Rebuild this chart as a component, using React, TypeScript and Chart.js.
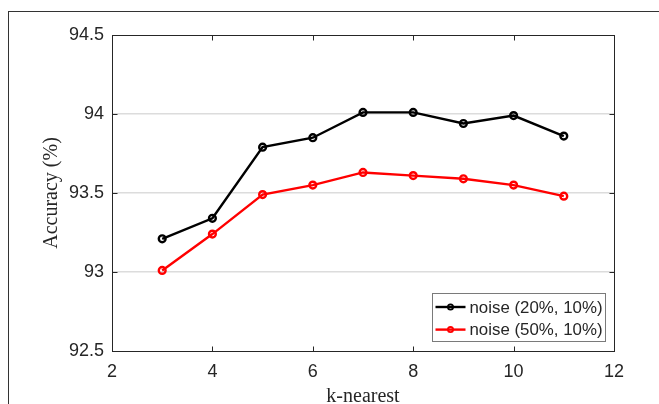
import React, { useEffect, useRef } from 'react';
import { Chart, registerables } from 'chart.js';

Chart.register(...registerables);

const kValues = [3, 4, 5, 6, 7, 8, 9, 10, 11];
const noise20 = [93.21, 93.34, 93.79, 93.85, 94.01, 94.01, 93.94, 93.99, 93.86];
const noise50 = [93.01, 93.24, 93.49, 93.55, 93.63, 93.61, 93.59, 93.55, 93.48];
const seriesLabels = ['noise (20%, 10%)', 'noise (50%, 10%)'];
const seriesColors = ['#000000', '#ff0000'];
const xTitle = 'k-nearest';
const yTitle = 'Accuracy (%)';
const xMin = 2;
const xMax = 12;
const xStep = 2;
const yMin = 92.5;
const yMax = 94.5;
const yStep = 0.5;

const SANS = "'Liberation Sans', Arial, Helvetica, sans-serif";
const SERIF = "'Liberation Serif', 'Times New Roman', serif";
const AXIS = '#262626';

const framePlugin = {
  id: 'matlabFrame',
  afterDraw(chart: any) {
    const { ctx, chartArea: a, scales } = chart;
    ctx.save();
    // outer figure border
    ctx.strokeStyle = '#333333';
    ctx.lineWidth = 1;
    ctx.strokeRect(8.5, 11.5, chart.width + 50, chart.height + 50);

    const L = Math.round(a.left) + 0.5;
    const R = Math.round(a.right) + 0.5;
    const T = Math.round(a.top) + 0.5;
    const B = Math.round(a.bottom) + 0.5;

    // inward tick marks
    ctx.strokeStyle = AXIS;
    ctx.lineWidth = 1;
    ctx.beginPath();
    scales.x.ticks.forEach((t: any) => {
      const px = Math.round(scales.x.getPixelForValue(t.value)) + 0.5;
      ctx.moveTo(px, B);
      ctx.lineTo(px, B - 5);
      ctx.moveTo(px, T);
      ctx.lineTo(px, T + 5);
    });
    scales.y.ticks.forEach((t: any) => {
      const py = Math.round(scales.y.getPixelForValue(t.value)) + 0.5;
      ctx.moveTo(L, py);
      ctx.lineTo(L + 5, py);
      ctx.moveTo(R, py);
      ctx.lineTo(R - 5, py);
    });
    ctx.stroke();

    // axes box
    ctx.strokeRect(L, T, R - L, B - T);

    // legend
    ctx.font = `17px ${SANS}`;
    const ds = chart.data.datasets;
    const lineLen = 30;
    const boxW = 173;
    const boxH = 48;
    const bx = Math.round(a.right - 9 - boxW) + 0.5;
    const by = Math.round(a.bottom - 10 - boxH) + 0.5;
    ctx.fillStyle = '#ffffff';
    ctx.fillRect(bx, by, boxW, boxH);
    ctx.strokeStyle = '#7a7a7a';
    ctx.lineWidth = 1;
    ctx.strokeRect(bx, by, boxW, boxH);
    ds.forEach((d: any, i: number) => {
      const cy = by + 13.5 + i * 22.6;
      const x0 = bx + 3;
      ctx.strokeStyle = d.borderColor;
      ctx.lineWidth = 2.4;
      ctx.beginPath();
      ctx.moveTo(x0, cy);
      ctx.lineTo(x0 + lineLen, cy);
      ctx.stroke();
      ctx.lineWidth = 1.8;
      ctx.beginPath();
      ctx.arc(x0 + lineLen / 2, cy, 2.6, 0, Math.PI * 2);
      ctx.stroke();
      ctx.fillStyle = AXIS;
      ctx.textAlign = 'left';
      ctx.textBaseline = 'middle';
      ctx.fillText(d.label, x0 + lineLen + 4, cy + 1, boxW - lineLen - 10);
    });
    ctx.restore();
  },
};

export default function App() {
  const canvasRef = useRef<HTMLCanvasElement | null>(null);

  useEffect(() => {
    const canvas = canvasRef.current;
    if (!canvas) return;
    const series = [noise20, noise50];
    const chart = new Chart(canvas, {
      type: 'line',
      data: {
        datasets: series.map((vals, i) => ({
          label: seriesLabels[i],
          data: kValues.map((k, j) => ({ x: k, y: vals[j] })),
          borderColor: seriesColors[i],
          backgroundColor: seriesColors[i],
          borderWidth: 2.4,
          pointRadius: 3.4,
          pointBorderWidth: 2.4,
          pointBackgroundColor: 'rgba(0,0,0,0)',
          pointBorderColor: seriesColors[i],
          tension: 0,
          fill: false,
        })),
      },
      options: {
        animation: false,
        responsive: true,
        maintainAspectRatio: false,
        devicePixelRatio: 1,
        layout: { padding: { left: 0, top: 35, right: 45, bottom: 0 } },
        plugins: {
          legend: { display: false },
          tooltip: { enabled: false },
        },
        scales: {
          x: {
            type: 'linear',
            min: xMin,
            max: xMax,
            afterFit: (s: any) => {
              s.height = 53;
            },
            ticks: {
              stepSize: xStep,
              color: AXIS,
              font: { family: SANS, size: 18 },
              padding: 10,
              maxRotation: 0,
              autoSkip: false,
            },
            grid: { display: false, drawTicks: false },
            border: { display: false },
            title: {
              display: true,
              text: xTitle,
              color: AXIS,
              font: { family: SERIF, size: 20, lineHeight: 1.2 },
              padding: { top: 0, bottom: -5 },
            },
          },
          y: {
            type: 'linear',
            min: yMin,
            max: yMax,
            afterFit: (s: any) => {
              s.width = 112;
            },
            ticks: {
              stepSize: yStep,
              color: AXIS,
              font: { family: SANS, size: 18 },
              padding: 8,
              callback: (v: any) => String(Number(v)),
            },
            grid: {
              drawTicks: false,
              lineWidth: 1.5,
              color: (c: any) =>
                c.tick && (c.tick.value === yMin || c.tick.value === yMax)
                  ? 'rgba(0,0,0,0)'
                  : '#dcdcdc',
            },
            border: { display: false },
            title: {
              display: true,
              text: yTitle,
              color: AXIS,
              font: { family: SERIF, size: 20, lineHeight: 1.2 },
              padding: { top: 40, bottom: 0 },
            },
          },
        },
      },
      plugins: [framePlugin],
    } as any);
    return () => chart.destroy();
  }, []);

  return (
    <div
      style={{
        position: 'fixed',
        left: 0,
        top: 0,
        width: 659,
        height: 404,
        background: '#ffffff',
      }}
    >
      <canvas ref={canvasRef} />
    </div>
  );
}
